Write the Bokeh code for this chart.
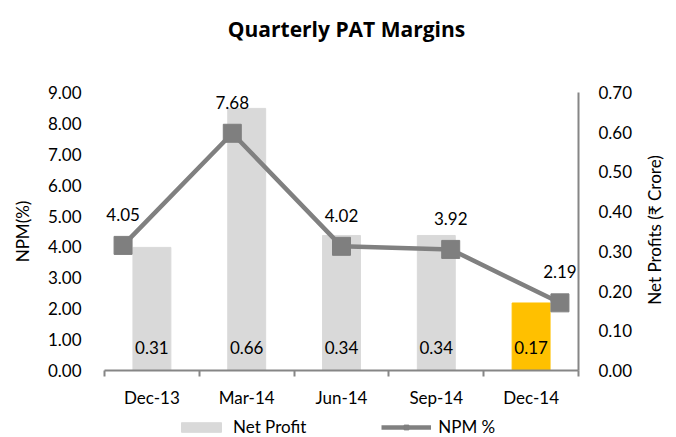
import math
from bokeh.plotting import figure
from bokeh.layouts import column, row
from bokeh.models import (Range1d, LinearAxis, FixedTicker, NumeralTickFormatter,
                          ColumnDataSource, LabelSet, Legend, LegendItem, Label)
from bokeh.core.properties import value
from bokeh.embed import file_html
from bokeh.resources import INLINE

# ---- data ----
title_text = "Quarterly PAT Margins"
left_axis_title = "NPM(%)"
right_axis_title = "Net Profits (₹ Crore)"
categories = ["Dec-13", "Mar-14", "Jun-14", "Sep-14", "Dec-14"]
net_profit = [0.31, 0.66, 0.34, 0.34, 0.17]
npm = [4.05, 7.68, 4.02, 3.92, 2.19]
npm_ticks = [0, 1, 2, 3, 4, 5, 6, 7, 8, 9]
np_ticks = [0.0, 0.1, 0.2, 0.3, 0.4, 0.5, 0.6, 0.7]

FONT = "Lato"
BAR_GREY = "#d9d9d9"
LINE_GREY = "#808080"
MARK_GREY = "#7f7f7f"
W = 676
TITLE_H, MAIN_H, LEG_H = 50, 360, 27
RSTRIP_W = 36
n = len(categories)
bar_x = [i + 0.5 for i in range(n)]
line_x = list(range(n))
bar_colors = [BAR_GREY] * (n - 1) + ["#ffc000"]

src = ColumnDataSource(dict(
    bx=bar_x, lx=line_x, np=net_profit, npm=npm, base=[0] * n,
    colors=bar_colors,
    np_lbl=[f"{v:.2f}" for v in net_profit],
    npm_lbl=[f"{v:.2f}" for v in npm],
))


def strip(width, height):
    f = figure(width=width, height=height, output_backend="svg", toolbar_location=None,
               x_range=Range1d(0, width), y_range=Range1d(0, height),
               min_border=0, x_axis_location=None, y_axis_location=None)
    f.outline_line_color = None
    f.grid.visible = False
    return f


# ---- title strip ----
tf = strip(W, TITLE_H)
tf.add_layout(Label(x=346, y=TITLE_H - 28, text=title_text, text_align="center",
                    text_baseline="middle", text_font="Open Sans",
                    text_font_size="21px", text_font_style="bold",
                    text_color="#000000"))

# ---- main chart ----
p = figure(width=W - RSTRIP_W, height=MAIN_H, output_backend="svg",
           toolbar_location=None, x_range=Range1d(0, n), y_range=Range1d(0, 9),
           min_border_left=104, min_border_right=98 - RSTRIP_W,
           min_border_top=92 - TITLE_H, min_border_bottom=36,
           x_axis_location=None, y_axis_location=None)
p.extra_y_ranges = {"np": Range1d(0, 0.7)}
p.extra_x_ranges = {"line": Range1d(-0.17, n - 1 + 0.17)}
p.outline_line_color = None
p.grid.visible = False
p.background_fill_color = "white"
p.border_fill_color = "white"

bars = p.vbar(x="bx", top="np", width=0.4, color="colors", source=src,
              y_range_name="np")
ln = p.line(x="lx", y="npm", line_color=LINE_GREY, line_width=4.5, source=src,
            x_range_name="line")
mk = p.scatter(x="lx", y="npm", marker="square", size=18, fill_color=MARK_GREY,
               line_color=MARK_GREY, source=src, x_range_name="line")

p.add_layout(LabelSet(x="lx", y="npm", text="npm_lbl", source=src,
                      x_range_name="line", y_offset=31, text_align="center",
                      text_baseline="middle", text_font=value(FONT),
                      text_font_size=value("17px"), text_color="#000000"))
p.add_layout(LabelSet(x="bx", y="base", text="np_lbl", source=src,
                      y_range_name="np", y_offset=23, text_align="center",
                      text_baseline="middle", text_font=value(FONT),
                      text_font_size=value("17px"), text_color="#000000"))

xaxis = LinearAxis(
    ticker=FixedTicker(ticks=bar_x, minor_ticks=list(range(n + 1))),
    major_label_overrides={bx: c for bx, c in zip(bar_x, categories)},
    major_tick_in=0, major_tick_out=0, minor_tick_in=0, minor_tick_out=6,
    minor_tick_line_color="#868686", axis_line_color="#868686",
    axis_line_width=2, minor_tick_line_width=2,
    major_label_standoff=10, major_label_text_font=FONT,
    major_label_text_font_size="17px", major_label_text_color="#000000")
p.add_layout(xaxis, "below")

yaxis = LinearAxis(
    ticker=FixedTicker(ticks=npm_ticks), formatter=NumeralTickFormatter(format="0.00"),
    axis_line_color=None, major_tick_line_color=None, minor_tick_line_color=None,
    major_label_standoff=17, major_label_text_font=FONT,
    major_label_text_font_size="17px", major_label_text_color="#000000",
    axis_label=left_axis_title, axis_label_text_font=FONT,
    axis_label_text_font_size="17px", axis_label_text_font_style="normal",
    axis_label_text_color="#000000", axis_label_standoff=12)
p.add_layout(yaxis, "left")

raxis = LinearAxis(
    y_range_name="np",
    ticker=FixedTicker(ticks=np_ticks), formatter=NumeralTickFormatter(format="0.00"),
    axis_line_color="#868686", axis_line_width=2,
    major_tick_line_color=None, minor_tick_line_color=None,
    major_label_standoff=14, major_label_text_font=FONT,
    major_label_text_font_size="17px", major_label_text_color="#000000")
p.add_layout(raxis, "right")

# ---- right axis title strip (reads bottom-to-top, centred on the plot area) ----
rf = strip(RSTRIP_W, MAIN_H)
rf.add_layout(Label(x=654 - (W - RSTRIP_W), y=MAIN_H - (228 - TITLE_H),
                    text=right_axis_title, angle=math.pi / 2,
                    text_align="center", text_baseline="middle", text_font=FONT,
                    text_font_size="17px", text_color="#000000"))

# ---- legend strip (hidden renderers only lend their styles to the legend) ----
lf = strip(W, LEG_H)
lbar = lf.vbar(x="bx", top="np", width=0.4, color=BAR_GREY, source=src, visible=False)
lline = lf.line(x="lx", y="npm", line_color=LINE_GREY, line_width=4.5, source=src,
                visible=False)
lmk = lf.scatter(x="lx", y="npm", marker="square", size=18, fill_color=MARK_GREY,
                 line_color=MARK_GREY, source=src, visible=False)
legend = Legend(items=[LegendItem(label="Net Profit", renderers=[lbar]),
                       LegendItem(label="NPM %", renderers=[lline, lmk])],
                orientation="horizontal", location=(176, 0),
                label_text_font=FONT, label_text_font_size="17px",
                label_text_color="#000000", glyph_width=50, glyph_height=12,
                label_standoff=7, spacing=75, padding=2, margin=0,
                label_height=20, inactive_fill_alpha=0,
                border_line_color=None, background_fill_alpha=0)
lf.add_layout(legend, "center")

layout = column(tf, row(p, rf, spacing=0), lf, spacing=0)
open("out.html", "w").write(file_html(layout, INLINE))
